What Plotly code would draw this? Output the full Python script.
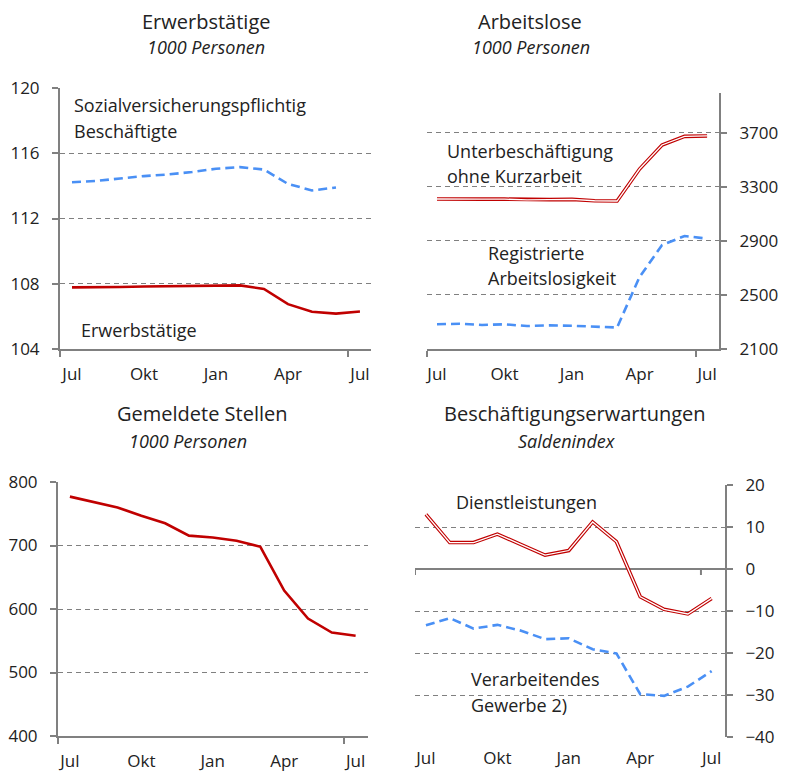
import plotly.graph_objects as go

# page body has an 8px margin, so the figure is shrunk by that amount and
# every layout position below is given in window pixels
OFF = 8
W, H = 788 - OFF, 779 - OFF

# months Jul .. Jul (13 monthly points)
months = list(range(13))
tick_pos = [0, 3, 6, 9, 12]
tick_text = ['Jul', 'Okt', 'Jan', 'Apr', 'Jul']

# Erwerbstätige (1000 Personen, scaled)
erwerbstaetige = [107.78, 107.77, 107.8, 107.83, 107.85, 107.87, 107.9, 107.9, 107.68, 106.75, 106.28, 106.17, 106.3]
sv_beschaeftigte = [114.22, 114.3, 114.45, 114.6, 114.7, 114.85, 115.05, 115.15, 115.0, 114.12, 113.72, 113.9]

# Arbeitslose
unterbeschaeftigung = [3211, 3213, 3210, 3210, 3205, 3206, 3208, 3198, 3196, 3433, 3611, 3675, 3678]
registrierte_al = [2283, 2287, 2278, 2283, 2270, 2275, 2272, 2264, 2259, 2633, 2870, 2937, 2917]

# Gemeldete Stellen
gemeldete_stellen = [777, 768, 760, 747, 735, 715.5, 712.5, 707.5, 698, 629, 585, 563, 558]

# Beschäftigungserwartungen
dienstleistungen = [13.0, 6.3, 6.3, 8.3, 5.8, 3.3, 4.4, 11.2, 6.5, -6.6, -9.6, -10.7, -7.0]
verarbeitendes = [-13.4, -11.7, -14.2, -13.3, -14.7, -16.7, -16.5, -19.1, -20.1, -29.8, -30.2, -28.0, -24.3]

RED = '#c00000'
BLUE = '#4a90f5'
GRAY = '#808080'
TXT = '#222222'
FONT = 'Open Sans'


def px_x(p):
    return (p - OFF) / W


def px_y(p):
    return 1 - (p - OFF) / H


fig = go.Figure()


def solid(x, y, ax):
    fig.add_trace(go.Scatter(x=x, y=y, mode='lines', xaxis='x' + ax, yaxis='y' + ax,
                             line=dict(color=RED, width=2.6), showlegend=False, hoverinfo='skip'))


def dashed(x, y, ax):
    fig.add_trace(go.Scatter(x=x, y=y, mode='lines', xaxis='x' + ax, yaxis='y' + ax,
                             line=dict(color=BLUE, width=2.6, dash='9px,5px'), showlegend=False, hoverinfo='skip'))


def double(x, y, ax):
    fig.add_trace(go.Scatter(x=x, y=y, mode='lines', xaxis='x' + ax, yaxis='y' + ax,
                             line=dict(color=RED, width=3.6), showlegend=False, hoverinfo='skip'))
    fig.add_trace(go.Scatter(x=x, y=y, mode='lines', xaxis='x' + ax, yaxis='y' + ax,
                             line=dict(color='white', width=1.3), showlegend=False, hoverinfo='skip'))


dashed(months[:12], sv_beschaeftigte, '')
solid(months, erwerbstaetige, '')
double(months, unterbeschaeftigung, '2')
dashed(months, registrierte_al, '2')
solid(months, gemeldete_stellen, '3')
double(months, dienstleistungen, '4')
dashed(months, verarbeitendes, '4')


def xax(dom, rng, showline=True, minor=True):
    d = dict(domain=[px_x(dom[0]), px_x(dom[1])], range=rng, tickmode='array',
             tickvals=tick_pos, ticktext=tick_text, ticks='', showgrid=False, zeroline=False,
             showline=showline, linecolor=GRAY, linewidth=2, automargin=False,
             tickfont=dict(family=FONT, size=17, color=TXT), ticklabelstandoff=9, fixedrange=True)
    if minor:
        d['minor'] = dict(tickmode='array', tickvals=[rng[0], 11.5], ticks='outside', ticklen=6,
                          tickcolor=GRAY, tickwidth=2, showgrid=False)
    return d


def yax(dom, rng, dtick, side='left', anchor='x'):
    return dict(domain=[px_y(dom[1]), px_y(dom[0])], range=rng, tick0=rng[0], dtick=dtick,
                side=side, anchor=anchor, showline=True, linecolor=GRAY, linewidth=2,
                ticks='outside', ticklen=6, tickcolor=GRAY, tickwidth=2, automargin=False,
                showgrid=True, gridcolor=GRAY, griddash='5px,4px', gridwidth=1, zeroline=False,
                tickfont=dict(family=FONT, size=17, color=TXT), ticklabelstandoff=9, fixedrange=True)


fig.update_layout(
    width=W, height=H, margin=dict(l=0, r=0, t=0, b=0),
    paper_bgcolor='white', plot_bgcolor='white', showlegend=False,
    xaxis=xax((60, 371), [-0.5, 12.46]),
    yaxis=yax((88, 349), [104, 120], 4, anchor='x'),
    xaxis2=xax((427, 719), [-0.444, 12.53]),
    yaxis2=yax((93, 349), [2100, 3996], 400, side='right', anchor='x2'),
    xaxis3=xax((58, 368), [-0.5, 12.52]),
    yaxis3=yax((482, 736), [400, 800], 100, anchor='x3'),
    xaxis4=xax((415, 725), [-0.46, 12.56], showline=False, minor=False),
    yaxis4=yax((485, 737), [-40, 20], 10, side='right', anchor='x4'),
)
fig.layout.xaxis.anchor = 'y'
fig.layout.xaxis2.anchor = 'y2'
fig.layout.xaxis3.anchor = 'y3'
fig.layout.xaxis4.anchor = 'y4'
fig.layout.yaxis4.zeroline = True
fig.layout.yaxis4.zerolinecolor = GRAY
fig.layout.yaxis4.zerolinewidth = 2

# small tick marks hanging from the zero line in the last panel
for xv in [-0.46, 11.55]:
    fig.add_shape(type='line', xref='x4', yref='y4', ysizemode='pixel', yanchor=0,
                  x0=xv, x1=xv, y0=0, y1=-6, line=dict(color=GRAY, width=2))


def text(s, x, y, size=18, anchor='left', italic=False):
    fig.add_annotation(text=s, x=px_x(x), y=px_y(y), xref='paper', yref='paper',
                       xanchor=anchor, yanchor='middle', showarrow=False, borderpad=0,
                       font=dict(family=FONT, size=size, color=TXT,
                                 style='italic' if italic else 'normal'))


# panel titles
text('Erwerbstätige', 206, 21, 20, 'center')
text('1000 Personen', 206, 47, 18, 'center', True)
text('Arbeitslose', 530, 21, 20, 'center')
text('1000 Personen', 531, 47, 18, 'center', True)
text('Gemeldete Stellen', 202, 413, 20, 'center')
text('1000 Personen', 188, 441, 18, 'center', True)
text('Beschäftigungserwartungen', 575, 413, 20, 'center')
text('Saldenindex', 567, 441, 18, 'center', True)

# series labels
text('Sozialversicherungspflichtig', 73, 105)
text('Beschäftigte', 73, 131)
text('Erwerbstätige', 80, 330)
text('Unterbeschäftigung', 446, 151)
text('ohne Kurzarbeit', 446, 176)
text('Registrierte', 487, 253)
text('Arbeitslosigkeit', 487, 278)
text('Dienstleistungen', 455, 502)
text('Verarbeitendes', 470, 679)
text('Gewerbe 2)', 470, 705)

fig.write_html('out.html')
